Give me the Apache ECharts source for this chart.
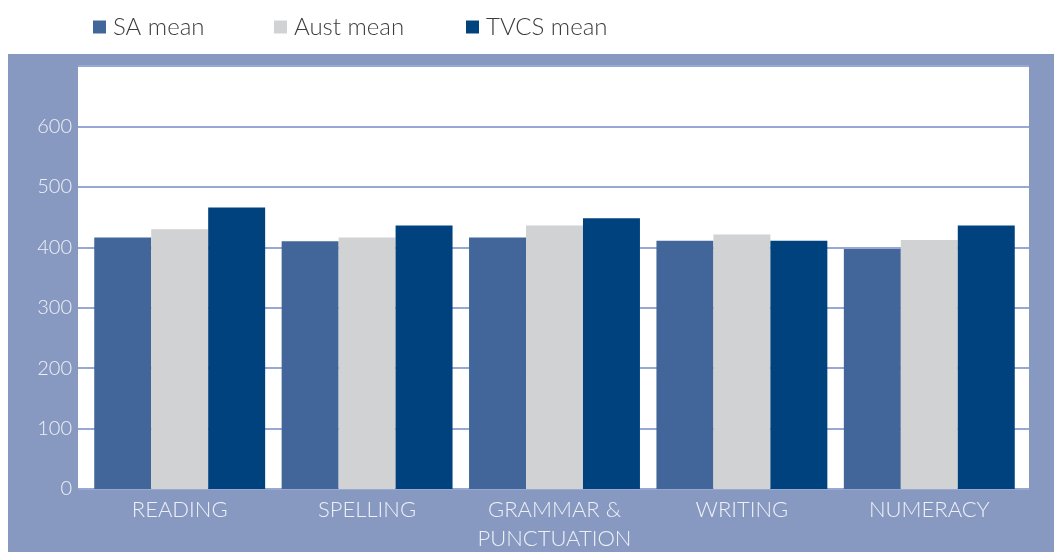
<!DOCTYPE html>
<html>
<head>
<meta charset="utf-8">
<script src="https://cdn.jsdelivr.net/npm/echarts@6/dist/echarts.min.js"></script>
<style>
html,body{margin:0;padding:0;background:#fff;}
#main{width:1054px;height:552px;}
</style>
</head>
<body>
<div id="main"></div>
<script>
var categories = ['READING', 'SPELLING', 'GRAMMAR &\nPUNCTUATION', 'WRITING', 'NUMERACY'];
var seriesNames = ['SA mean', 'Aust mean', 'TVCS mean'];
var saMean = [416, 410, 416, 411, 397];
var austMean = [430, 416, 436, 421, 412];
var tvcsMean = [466, 436, 448, 411, 436];
var yTicks = [0, 100, 200, 300, 400, 500, 600, 700];

var chart = echarts.init(document.getElementById('main'));
var labelFont = 'Lato';
var legendLeft = [88, 269, 461];

// one legend per item so each sits where the original has it
var legends = seriesNames.map(function(n, i){
	return {
		top: 10,
		left: legendLeft[i],
		itemWidth: 13,
		itemHeight: 13,
		icon: 'rect',
		textStyle: { fontFamily: labelFont, fontSize: 24, color: '#3c3c3c', fontWeight: 300, padding: [0, 0, 0, 2] },
		data: [n]
	};
});

var option = {
	animation: false,
	graphic: [
		{ type: 'rect', z: -10, shape: { x: 8, y: 54, width: 1046, height: 498 }, style: { fill: '#8799c0' } }
	],
	legend: legends,
	grid: [
		// background + horizontal grid lines
		{ left: 78, right: 25, top: 66, bottom: 63, show: true, backgroundColor: '#ffffff', borderWidth: 0, outerBoundsMode: 'none' },
		// bars
		{ left: 86, right: 31, top: 66, bottom: 63, outerBoundsMode: 'none' }
	],
	xAxis: [
		{ type: 'category', gridIndex: 0, data: categories, show: false },
		{
			type: 'category',
			gridIndex: 1,
			data: categories,
			axisLine: { show: false },
			axisTick: { show: false },
			splitLine: { show: false },
			axisLabel: {
				interval: 0,
				color: '#eef0f7', fontFamily: labelFont, fontWeight: 300, fontSize: 22,
				margin: 6, lineHeight: 29
			}
		}
	],
	yAxis: [
		{
			type: 'value',
			gridIndex: 0,
			min: yTicks[0],
			max: yTicks[yTicks.length - 1],
			interval: 100,
			axisLine: { show: false },
			axisTick: { show: false },
			splitLine: { lineStyle: { color: '#98a8d4', width: 2 } },
			axisLabel: {
				color: '#eef0f7', fontFamily: labelFont, fontWeight: 300, fontSize: 20,
				margin: 6, showMaxLabel: false
			}
		},
		{
			type: 'value',
			gridIndex: 1,
			min: yTicks[0],
			max: yTicks[yTicks.length - 1],
			interval: 100,
			show: false
		}
	],
	series: [
		{ name: seriesNames[0], type: 'bar', xAxisIndex: 1, yAxisIndex: 1, data: saMean, barGap: '0%', barCategoryGap: '8.8%', itemStyle: { color: '#426699' } },
		{ name: seriesNames[1], type: 'bar', xAxisIndex: 1, yAxisIndex: 1, data: austMean, barGap: '0%', barCategoryGap: '8.8%', itemStyle: { color: '#d1d2d4' } },
		{ name: seriesNames[2], type: 'bar', xAxisIndex: 1, yAxisIndex: 1, data: tvcsMean, barGap: '0%', barCategoryGap: '8.8%', itemStyle: { color: '#00427e' } }
	]
};
chart.setOption(option);
</script>
</body>
</html>
